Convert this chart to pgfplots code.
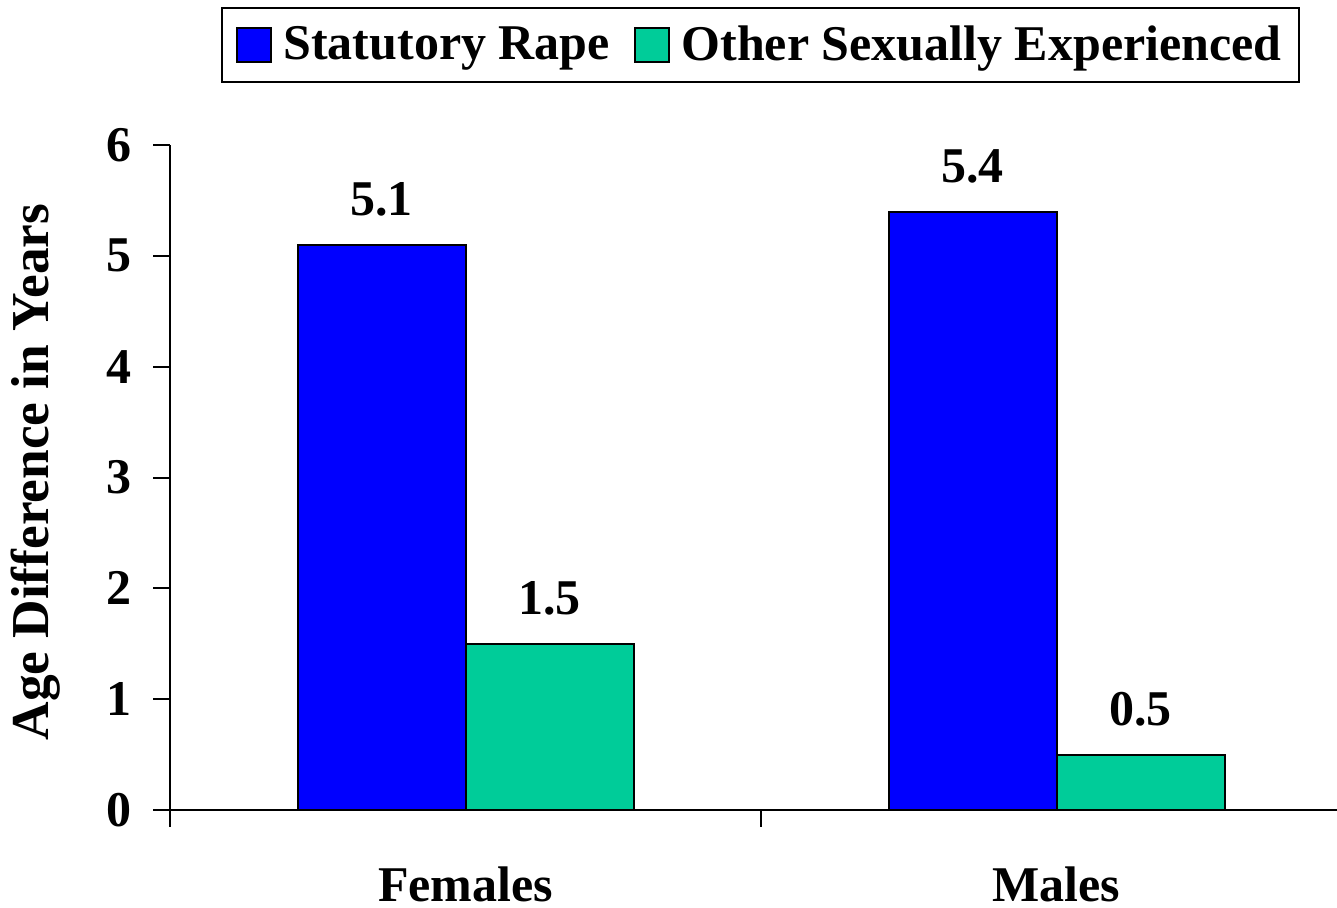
\documentclass[border=0pt]{standalone}
\usepackage{fontspec}
\setmainfont{Liberation Serif}
\usepackage{pgfplots}
\pgfplotsset{compat=1.18}
\definecolor{srblue}{RGB}{0,0,255}
\definecolor{osgreen}{RGB}{0,204,153}
\newcommand{\lbl}{\fontsize{15pt}{18pt}\selectfont\bfseries}
\begin{document}
\begin{tikzpicture}
\begin{axis}[at={(0pt,0pt)}, anchor=south west, scale only axis,
  width=350.1pt, height=199.5pt,
  /pgf/number format/assume math mode=true,
  xmin=0, xmax=1.9746, ymin=0, ymax=6,
  axis x line=bottom, axis y line=left,
  axis line style={-, line width=0.6pt, black},
  every tick/.style={black, line width=0.6pt},
  tick align=outside, major tick length=5pt,
  ytick={0,1,2,3,4,5,6},
  yticklabel style={font=\lbl, xshift=-3pt},
  xtick={0,1}, xticklabels={},
  extra x ticks={0.5,1.5}, extra x tick labels={Females,Males},
  extra x tick style={major tick length=0pt, tick label style={font=\lbl, yshift=-13.6pt}},
  ylabel={Age Difference in Years},
  ylabel style={font=\fontsize{16pt}{19pt}\selectfont\bfseries, at={(axis description cs:-0.1150,0.508)}, anchor=center},
  ybar=0pt, bar width=50.4pt,
  nodes near coords,
  nodes near coords style={/pgf/number format/fixed, /pgf/number format/fixed zerofill, /pgf/number format/precision=1},
  every node near coord/.append style={font=\lbl, yshift=5pt},
  area legend,
  legend image code/.code={\path[draw=none, fill=none] (0pt,0pt) -- (13.5pt,0pt);
    \draw[#1, line width=0.5pt] (1.5pt,-5.1pt) rectangle (11.7pt,5.1pt);},
  legend columns=-1,
  legend style={at={(rel axis cs:0.5056,1.150)}, anchor=center, draw=black,
    line width=0.6pt, font=\lbl, inner sep=3.1pt,
    /tikz/every even column/.append style={column sep=4pt}},
]
\addplot[fill=srblue, draw=black, line width=0.6pt] coordinates {(0.5,5.1) (1.5,5.4)};
\addlegendentry{Statutory Rape}
\addplot[fill=osgreen, draw=black, line width=0.6pt] coordinates {(0.5,1.5) (1.5,0.5)};
\addlegendentry{Other Sexually Experienced}
\end{axis}
\pgfresetboundingbox
\path[use as bounding box] (-51pt,-29.4pt) rectangle (350.1pt,243pt);
\end{tikzpicture}
\end{document}
